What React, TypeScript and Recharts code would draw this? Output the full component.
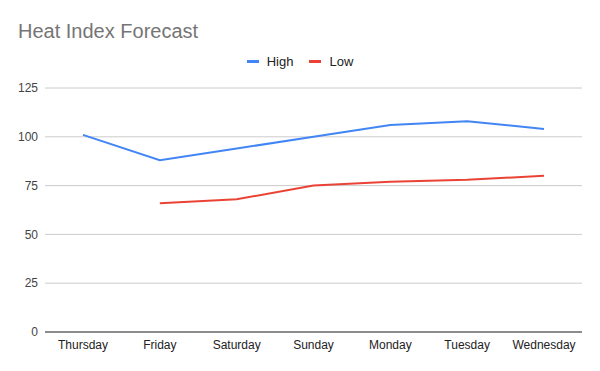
import React from 'react';
import {
  LineChart,
  Line,
  XAxis,
  YAxis,
  CartesianGrid,
} from 'recharts';

const days = ['Thursday', 'Friday', 'Saturday', 'Sunday', 'Monday', 'Tuesday', 'Wednesday'];
const highValues = [101, 88, 94, 100, 106, 108, 104];
const lowValues: (number | null)[] = [null, 66, 68, 75, 77, 78, 80];
const yTicks = [0, 25, 50, 75, 100, 125];

const series = [
  { key: 'high', name: 'High', color: '#4285F4' },
  { key: 'low', name: 'Low', color: '#EA4335' },
];

const data = days.map((day, i) => ({
  day,
  high: highValues[i],
  low: lowValues[i],
}));

const font = '"Liberation Sans", Arial, sans-serif';

export default function App() {
  return (
    <div
      style={{
        position: 'absolute',
        left: 0,
        top: 0,
        width: 600,
        height: 371,
        background: '#fff',
        fontFamily: font,
      }}
    >
      <div
        style={{
          position: 'absolute',
          left: 18,
          top: 20,
          fontSize: 20,
          color: '#757575',
        }}
      >
        Heat Index Forecast
      </div>
      {/* legend */}
      <div
        style={{
          position: 'absolute',
          left: 0,
          top: 54,
          width: 600,
          display: 'flex',
          justifyContent: 'center',
          gap: 16,
          fontSize: 13,
          color: '#222',
        }}
      >
        {series.map((s) => (
          <div key={s.key} style={{ display: 'flex', alignItems: 'center' }}>
            <span
              style={{
                display: 'inline-block',
                width: 12,
                height: 3,
                background: s.color,
                marginRight: 8,
              }}
            />
            <span>{s.name}</span>
          </div>
        ))}
      </div>
      <LineChart
        width={600}
        height={371}
        data={data}
        margin={{ top: 88, right: 18, left: 0, bottom: 9 }}
        style={{ fontFamily: font }}
      >
        <CartesianGrid vertical={false} stroke="#cccccc" />
        <XAxis
          dataKey="day"
          height={30}
          padding={{ left: 38, right: 38 }}
          tickLine={false}
          axisLine={{ stroke: '#333333' }}
          tick={{ fill: '#222', fontSize: 12 }}
          tickMargin={2}
          interval={0}
        />
        <YAxis
          width={45}
          domain={[0, 125]}
          ticks={yTicks}
          axisLine={false}
          tickLine={false}
          tickSize={0}
          tickMargin={7}
          tick={{ fill: '#444', fontSize: 12 }}
        />
        {series.map((s) => (
          <Line
            key={s.key}
            dataKey={s.key}
            name={s.name}
            stroke={s.color}
            strokeWidth={2}
            dot={false}
            activeDot={false}
            type="linear"
            isAnimationActive={false}
          />
        ))}
      </LineChart>
    </div>
  );
}
